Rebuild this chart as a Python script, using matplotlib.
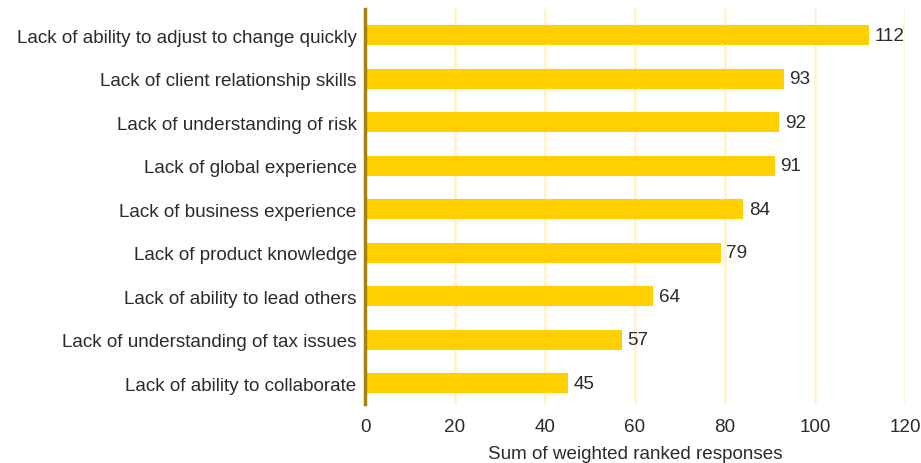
import matplotlib
matplotlib.use("Agg")
import matplotlib.pyplot as plt

categories = [
    "Lack of ability to adjust to change quickly",
    "Lack of client relationship skills",
    "Lack of understanding of risk",
    "Lack of global experience",
    "Lack of business experience",
    "Lack of product knowledge",
    "Lack of ability to lead others",
    "Lack of understanding of tax issues",
    "Lack of ability to collaborate",
]
values = [112, 93, 92, 91, 84, 79, 64, 57, 45]
xticks = [0, 20, 40, 60, 80, 100, 120]

plt.rcParams["font.family"] = ["Liberation Sans", "DejaVu Sans"]
text_color = "#2b2b2b"
fs = 13.6

fig = plt.figure(figsize=(9.21, 4.64), dpi=100)
ax = fig.add_axes([365 / 921, 1 - 405 / 464, 540 / 921, 395 / 464])

ypos = list(range(len(categories)))
ax.barh(ypos, values, height=0.46, color="#FFCF00", zorder=2)
for y, v in zip(ypos, values):
    ax.text(v + 1.3, y, str(v), va="center", ha="left", fontsize=fs, color=text_color)

ax.set_xlim(0, 120)
ax.set_ylim(8.48, -0.6)
ax.set_yticks(ypos)
ax.set_yticklabels(categories, fontsize=fs, color=text_color)
ax.set_xticks(xticks)
ax.set_xticklabels([str(t) for t in xticks], fontsize=fs, color=text_color)
ax.tick_params(axis="both", length=0)
ax.tick_params(axis="y", pad=6)
ax.tick_params(axis="x", pad=10)
ax.set_xlabel("Sum of weighted ranked responses", fontsize=fs, color=text_color, labelpad=7)

ax.grid(axis="x", color="#FFF2D2", linewidth=2, zorder=0)
ax.set_axisbelow(True)
for side in ["top", "right", "bottom"]:
    ax.spines[side].set_visible(False)
ax.spines["left"].set_color("#A8820E")
ax.spines["left"].set_linewidth(2.5)
ax.spines["left"].set_zorder(3)

fig.savefig("out.png", dpi=100)
